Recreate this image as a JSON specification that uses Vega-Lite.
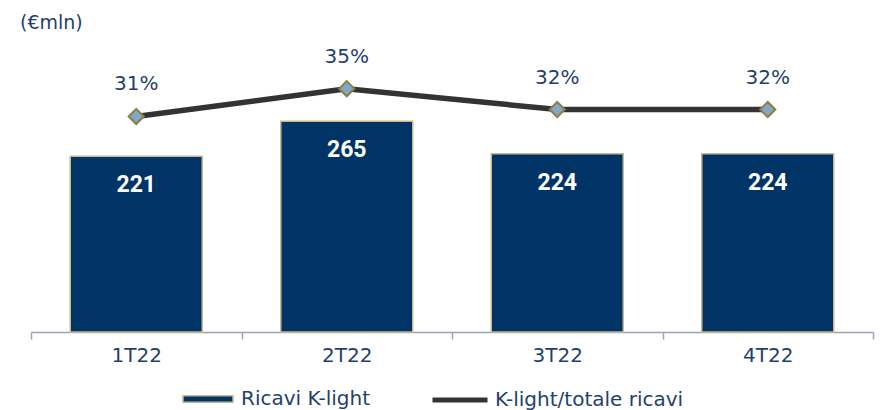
{
  "$schema": "https://vega.github.io/schema/vega-lite/v6.json",
  "autosize": {"type": "none"},
  "width": 842,
  "height": 292,
  "padding": {"left": 31, "top": 40, "right": 7, "bottom": 78},
  "background": "white",
  "title": {"text": "(€mln)", "anchor": "start", "frame": "group", "orient": "top", "offset": 12, "baseline": "alphabetic", "dx": -11, "dy": 20, "fontSize": 19, "font": "DejaVu Sans", "fontWeight": "normal", "color": "#1f3f6e"},
  "config": {
    "view": {"stroke": null},
    "font": "DejaVu Sans"
  },
  "data": {"values": [
    {"q": "1T22", "ricavi": 221, "pct": 0.31},
    {"q": "2T22", "ricavi": 265, "pct": 0.35},
    {"q": "3T22", "ricavi": 224, "pct": 0.32},
    {"q": "4T22", "ricavi": 224, "pct": 0.32}
  ]},
  "encoding": {
    "x": {"field": "q", "type": "nominal", "sort": null,
      "scale": {"paddingInner": 0, "paddingOuter": 0},
      "axis": {"title": null, "labelAngle": 0, "labelFontSize": 20, "labelColor": "#1f3f6e", "labelPadding": 6, "tickSize": 7, "tickBand": "extent", "domainColor": "#9ea3b8", "tickColor": "#9ea3b8", "domainWidth": 1.5, "tickWidth": 1.5, "grid": false}}
  },
  "layer": [
    {
      "layer": [
        {
          "mark": {"type": "bar", "stroke": "#c8ba8c", "strokeWidth": 1.5, "width": {"band": 0.627}},
          "encoding": {
            "y": {"field": "ricavi", "type": "quantitative", "scale": {"domain": [0, 367], "nice": false}, "axis": null},
            "fill": {"datum": "Ricavi K-light", "type": "nominal", "scale": {"range": ["#003366"]},
              "legend": {"title": null, "orient": "none", "legendX": 151, "legendY": 333, "symbolType": "M-1,-0.13H1V0.13H-1Z", "symbolSize": 2500, "symbolStrokeColor": "#c8ba8c", "symbolStrokeWidth": 1.5, "labelFontSize": 20, "labelColor": "#1f3f6e", "labelOffset": 7, "labelLimit": 300, "padding": 0}}
          }
        },
        {
          "mark": {"type": "text", "color": "white", "fontSize": 23, "fontWeight": "bold", "font": "Roboto", "baseline": "middle", "dy": 29},
          "encoding": {
            "y": {"field": "ricavi", "type": "quantitative", "scale": {"domain": [0, 367], "nice": false}, "axis": null},
            "text": {"field": "ricavi", "type": "quantitative"}
          }
        }
      ]
    },
    {
      "layer": [
        {
          "mark": {"type": "line", "strokeWidth": 5.5},
          "encoding": {
            "y": {"field": "pct", "type": "quantitative", "scale": {"domain": [0, 0.42], "nice": false}, "axis": null},
            "stroke": {"datum": "K-light/totale ricavi", "type": "nominal", "scale": {"range": ["#333333"]},
              "legend": {"title": null, "orient": "none", "legendX": 399, "legendY": 330, "symbolType": "stroke", "symbolSize": 3025, "symbolStrokeWidth": 5, "labelFontSize": 20, "labelColor": "#1f3f6e", "labelOffset": 5, "labelLimit": 300, "padding": 0}}
          }
        },
        {
          "mark": {"type": "point", "shape": "diamond", "size": 230, "filled": true, "fill": "#7fa8c9", "stroke": "#8e7d45", "strokeWidth": 2, "opacity": 1},
          "encoding": {
            "y": {"field": "pct", "type": "quantitative", "scale": {"domain": [0, 0.42], "nice": false}, "axis": null}
          }
        },
        {
          "mark": {"type": "text", "color": "#1f3f6e", "fontSize": 20, "baseline": "middle", "dy": -32},
          "encoding": {
            "y": {"field": "pct", "type": "quantitative", "scale": {"domain": [0, 0.42], "nice": false}, "axis": null},
            "text": {"field": "pct", "type": "quantitative", "format": ".0%"}
          }
        }
      ]
    }
  ],
  "resolve": {"scale": {"y": "independent"}}
}
